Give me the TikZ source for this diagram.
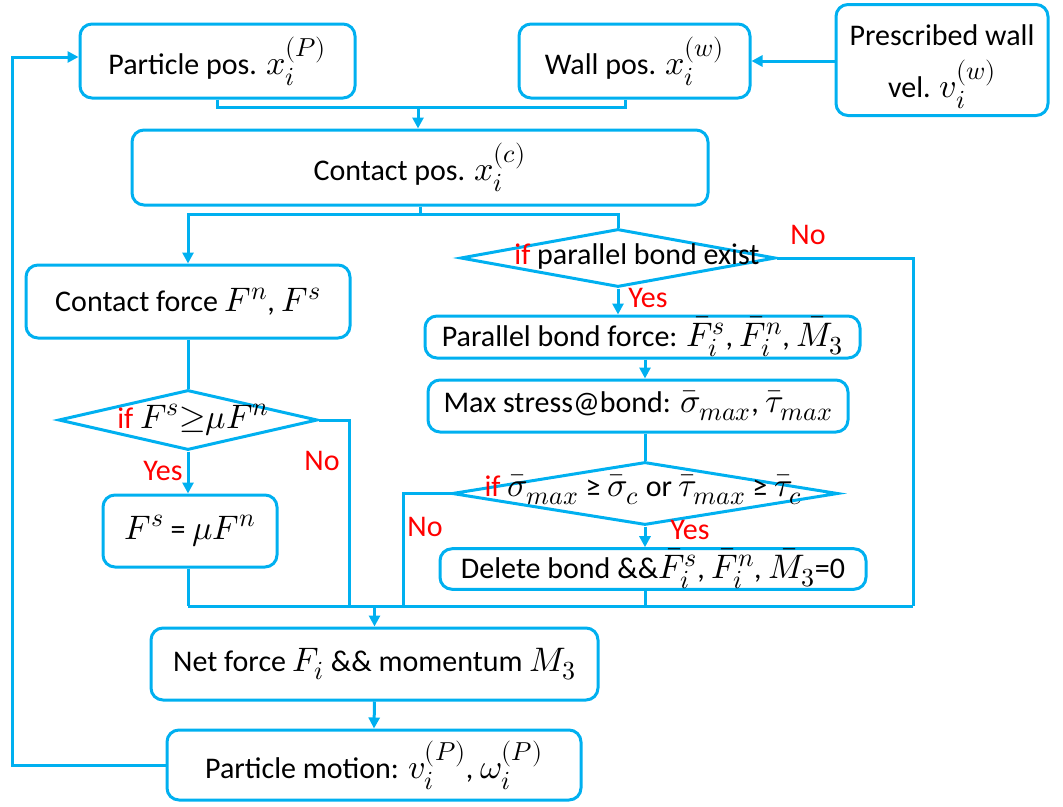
\documentclass[tikz,border=0pt]{standalone}
\usepackage{fontspec}
\usepackage{unicode-math}
\setmainfont{Carlito}
\DeclareMathSizes{30}{34}{26}{20}
\usetikzlibrary{shapes.geometric,arrows.meta}
\definecolor{flow}{HTML}{00B0F0}
\definecolor{lab}{HTML}{FF0000}
\begin{document}
\begin{tikzpicture}[x=1pt,y=-1pt,
  font=\fontsize{30}{35}\selectfont,
  line/.style={draw=flow,line width=3pt},
  arr/.style={line,-{Triangle[length=11pt,width=11pt]}},
  box/.style={draw=flow,line width=3pt,rounded corners=12pt,inner sep=0pt,align=center},
  dia/.style={draw=flow,line width=3pt,diamond,inner sep=0pt},
  txt/.style={inner sep=0pt},
  tag/.style={text=lab,inner sep=0pt},
]
\useasboundingbox (0,0) rectangle (1063,806);

% boxes
\node[box,minimum width=275pt,minimum height=74pt] (part) at (217.5,61) {Particle pos. $x_i^{(P)}$};
\node[box,minimum width=231pt,minimum height=74pt] (wall) at (634.5,61) {Wall pos. $x_i^{(w)}$};
\node[box,minimum width=212pt,minimum height=111pt] (pres) at (942,60) {};
\node[txt,align=center,font=\fontsize{30}{52}\selectfont] (prest) at (942,67) {Prescribed wall\\vel. $v_i^{(w)}$};
\node[box,minimum width=576pt,minimum height=75pt] (contact) at (420,167.5) {Contact pos. $x_i^{(c)}$};
\node[box,minimum width=324pt,minimum height=73pt] (cforce) at (188,301.5) {Contact force $F^n$, $F^s$};
\node[box,minimum width=174pt,minimum height=72pt] (fs) at (190,531) {$F^s$ = $\mu F^n$};
\node[box,minimum width=435pt,minimum height=42pt] (pbf) at (642.5,337) {Parallel bond force: $\bar{F}_i^s$, $\bar{F}_i^n$, $\bar{M}_3$};
\node[box,minimum width=420pt,minimum height=52pt] (maxs) at (638,406) {Max stress@bond: $\bar{\sigma}_{max}$, $\bar{\tau}_{max}$};
\node[box,minimum width=426pt,minimum height=38pt] (del) at (653,569) {Delete bond \&\&$\bar{F}_i^s$, $\bar{F}_i^n$, $\bar{M}_3$=0};
\node[box,minimum width=447pt,minimum height=72pt] (net) at (374.5,664) {Net force $F_i$ \&\& momentum $M_3$};
\node[box,minimum width=414pt,minimum height=70pt] (pm) at (374,765) {Particle motion: $v_i^{(P)}$, $\omega_i^{(P)}$};

% decisions
\node[dia,minimum width=259pt,minimum height=60pt] (d1) at (188,420) {};
\node[txt] (d1t) at (193,420) {{\color{lab}if} $F^s{\geq}\mu F^n$};
\node[dia,minimum width=315pt,minimum height=58pt] (d2) at (618,258) {};
\node[txt] (d2t) at (637,256) {{\color{lab}if} parallel bond exist};
\node[dia,minimum width=386pt,minimum height=63pt] (d3) at (645,493.5) {};
\node[txt] (d3t) at (643,490) {{\color{lab}if} $\bar{\sigma}_{max}$ ≥ $\bar{\sigma}_c$ or $\bar{\tau}_{max}$ ≥ $\bar{\tau}_c$};

% branch labels
\node[tag] at (163,471) {Yes};
\node[tag] at (322,461) {No};
\node[tag] at (808,235) {No};
\node[tag] at (648,298) {Yes};
\node[tag] at (425,527) {No};
\node[tag] at (690,530) {Yes};

% junction points
\coordinate (j1) at (418,107);
\coordinate (j2) at (420,214);
\coordinate (busL) at (188,606);
\coordinate (busR) at (913,606);
\coordinate (n1) at (349,606);
\coordinate (n2) at (403,606);
\coordinate (loop) at (12,400);

% connectors
\draw[arr] (pres.west |- wall.east) -- (wall.east);
\draw[line] (part.south) |- (j1) -| ([xshift=-9pt]wall.south);
\draw[arr] (j1) -- (j1 |- contact.north);
\draw[line] (contact.south -| j2) -- (j2);
\draw[arr] (j2) -| (cforce.north);
\draw[line] (j2) -| (d2.north);
\draw[line] (cforce.south) -- (d1.north);
\draw[arr] (d1.south) -- (d1.south |- fs.north);
\draw[line] (d1.east) -| (n1);
\draw[line] (fs.south -| busL) -- (busL);
\draw[line] (d2.east) -| (busR);
\draw[arr] (d2.south) -- (d2.south |- pbf.north);
\draw[arr] (d3.north |- pbf.south) -- (d3.north |- maxs.north);
\draw[line] (d3.north |- maxs.south) -- (d3.north);
\draw[line] (d3.west) -| (n2);
\draw[arr] (d3.south) -- (d3.south |- del.north);
\draw[line] (d3.south |- del.south) -- (d3.south |- busR);
\draw[line] (busL) -- (busR);
\draw[arr] (busL -| net.north) -- (net.north);
\draw[arr] (net.south) -- (pm.north);
\draw[arr] (pm.west) -| (loop) |- ([yshift=4pt]part.west);
\end{tikzpicture}
\end{document}
